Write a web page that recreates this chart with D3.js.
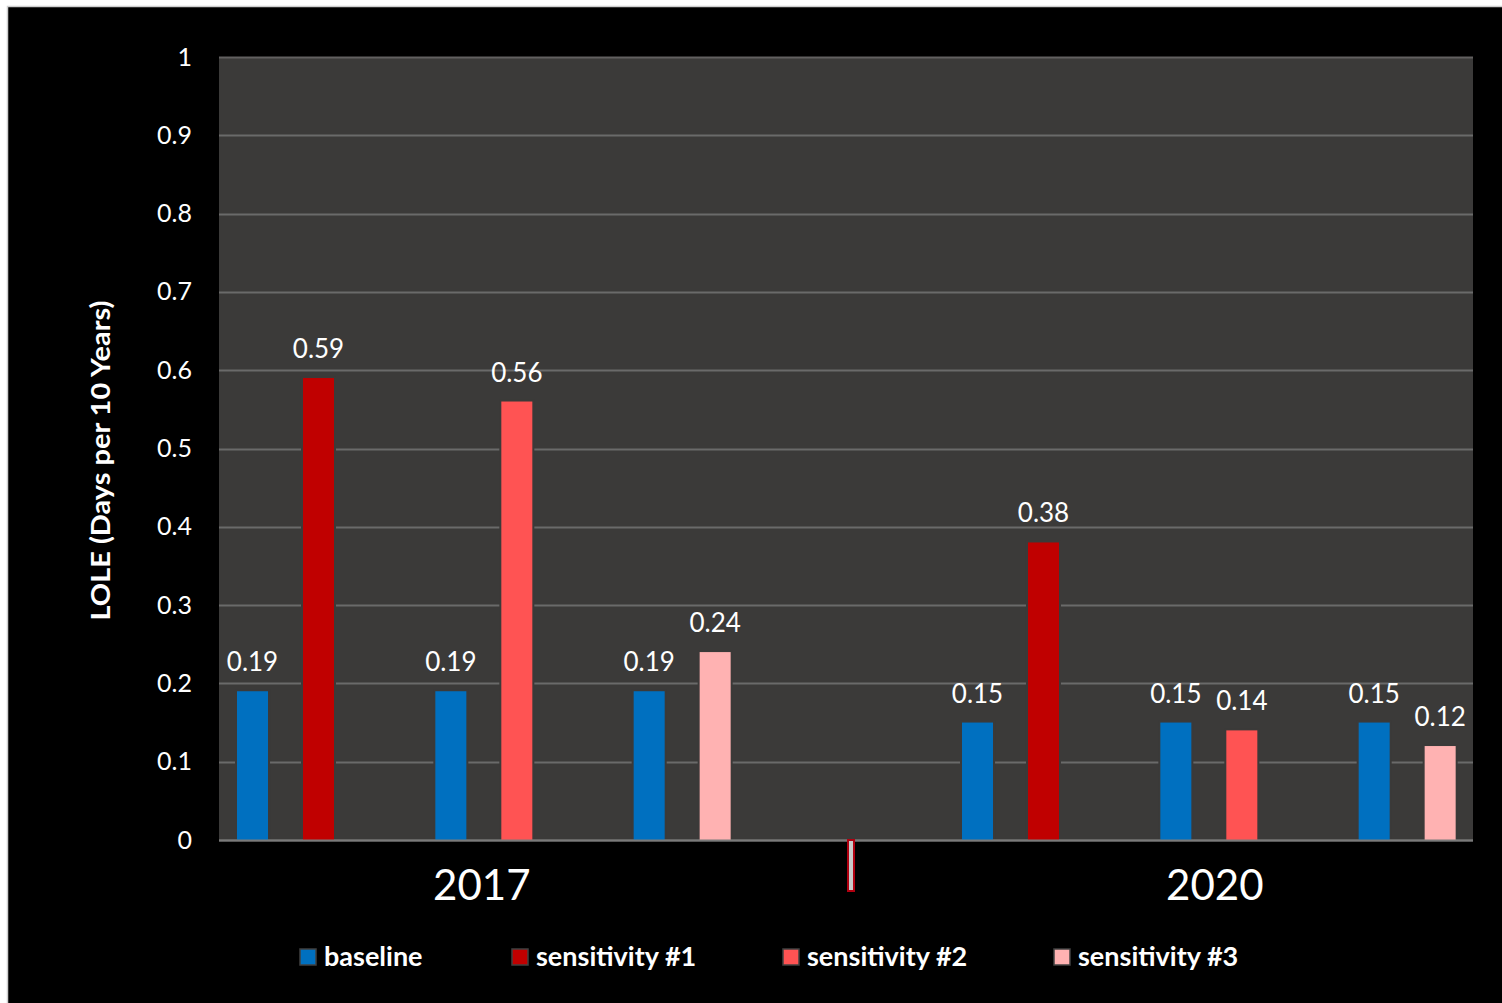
<!DOCTYPE html>
<html>
<head>
<meta charset="utf-8">
<script src="https://cdn.jsdelivr.net/npm/d3@7"></script>
<style>
  body { margin: 0; background: #fff; }
  svg { display: block; }
  text { font-family: "Lato", "Open Sans", sans-serif; }
</style>
</head>
<body>
<div id="grafico"></div>
<script>
// datos del grafico
const anios = ["2017", "2020"];
const series = ["baseline", "sensitivity #1", "sensitivity #2", "sensitivity #3"];
const colores = ["#0070c0", "#c00000", "#ff5353", "#ffb2b2"];
// cada año tiene 3 pares: baseline contra sensibilidad n
const baseline2017 = [0.19, 0.19, 0.19];
const sensibilidad2017 = [0.59, 0.56, 0.24];
const baseline2020 = [0.15, 0.15, 0.15];
const sensibilidad2020 = [0.38, 0.14, 0.12];
const ticksY = [0, 0.1, 0.2, 0.3, 0.4, 0.5, 0.6, 0.7, 0.8, 0.9, 1];

const pares = [];
anios.forEach((anio, i) => {
    const base = i === 0 ? baseline2017 : baseline2020;
    const sens = i === 0 ? sensibilidad2017 : sensibilidad2020;
    base.forEach((v, k) => {
        pares.push({ anio, par: k, serie: "baseline", valor: v });
        pares.push({ anio, par: k, serie: series[k + 1], valor: sens[k] });
    });
});

const W = 1502, H = 1003;
const margin = { top: 57, right: 29, bottom: 163, left: 219 };
const width = W - margin.left - margin.right;
const height = H - margin.top - margin.bottom;

const svg = d3.select("#grafico").append("svg")
    .attr("width", W).attr("height", H);

// fondo negro con borde gris claro
svg.append("rect").attr("x", 7.5).attr("y", 6.5).attr("width", W).attr("height", H)
    .attr("fill", "#000").attr("stroke", "#cfcfcf").attr("stroke-width", 1.5);

const g = svg.append("g").attr("transform", `translate(${margin.left},${margin.top})`);

const y = d3.scaleLinear().domain([0, 1]).range([height, 0]);
const xAnio = d3.scaleBand().domain(anios).range([0, width]);
// desplazamiento de los pares dentro de cada año
const inicioPares = { "2017": 18, "2020": 116 };
const anchoPares = 595;
const xPar = d3.scaleBand().domain([0, 1, 2]).range([0, anchoPares]);
const xSerie = d3.scaleBand().domain(["base", "sens"]).range([0, 97]).paddingInner(0.53);
const color = d3.scaleOrdinal().domain(series).range(colores);

const xBarra = d => xAnio(d.anio) + inicioPares[d.anio] + xPar(d.par) + xSerie(d.serie === "baseline" ? "base" : "sens");

g.append("rect").attr("width", width).attr("height", height).attr("fill", "#3b3a39");

// lineas de grilla
g.selectAll(".grid").data(ticksY).enter().append("line")
    .attr("x1", 0).attr("x2", width)
    .attr("y1", d => Math.round(y(d)) + 0.5).attr("y2", d => Math.round(y(d)) + 0.5)
    .attr("stroke", d => d === 1 ? "#626060" : "#6a6a6a").attr("stroke-width", 2);

// eje y
const ejeY = g.append("g")
    .call(d3.axisLeft(y).tickValues(ticksY).tickFormat(d3.format("")).tickSize(0).tickPadding(27));
ejeY.select(".domain").remove();
ejeY.selectAll("text").attr("fill", "#fff").attr("font-size", "25px")
    .attr("font-family", "Lato, 'Open Sans', sans-serif");

// barras con un halo del color del fondo
g.selectAll(".halo").data(pares).enter().append("rect")
    .attr("x", d => xBarra(d) - 2)
    .attr("y", d => y(d.valor) - 2)
    .attr("width", xSerie.bandwidth() + 4)
    .attr("height", d => height - y(d.valor) + 1)
    .attr("fill", "#3b3a39");

g.selectAll(".bar").data(pares).enter().append("rect")
    .attr("class", "bar")
    .attr("x", d => xBarra(d))
    .attr("y", d => y(d.valor))
    .attr("width", xSerie.bandwidth())
    .attr("height", d => height - y(d.valor))
    .attr("fill", d => color(d.serie));

g.selectAll(".etiqueta").data(pares).enter().append("text")
    .attr("x", d => xBarra(d) + xSerie.bandwidth() / 2)
    .attr("y", d => y(d.valor) - 20)
    .attr("text-anchor", "middle")
    .attr("fill", "#fff").attr("font-size", "26px")
    .text(d => d.valor.toFixed(2));

// eje x
g.append("line").attr("x1", 0).attr("x2", width).attr("y1", height + 0.5).attr("y2", height + 0.5)
    .attr("stroke", "#7a7a7a").attr("stroke-width", 2);

const ajusteAnio = { "2017": -2, "2020": 6 };
g.selectAll(".anio").data(anios).enter().append("text")
    .attr("x", d => xAnio(d) + inicioPares[d] + (anchoPares - xPar.step() + 97) / 2 + ajusteAnio[d])
    .attr("y", height + 60)
    .attr("text-anchor", "middle")
    .attr("fill", "#fff").attr("font-size", "42px")
    .text(d => d);

// marca divisoria entre años
g.append("rect")
    .attr("x", xAnio("2020") + 2).attr("y", height)
    .attr("width", 6).attr("height", 51)
    .attr("fill", "#c8c8c8").attr("stroke", "#b00010").attr("stroke-width", 2);

// titulo eje y
svg.append("text")
    .attr("transform", `translate(110, ${margin.top + height / 2 + 12}) rotate(-90)`)
    .attr("text-anchor", "middle")
    .attr("fill", "#fff").attr("font-size", "27px").attr("font-weight", "bold")
    .attr("textLength", 320).attr("lengthAdjust", "spacingAndGlyphs")
    .text("LOLE (Days per 10 Years)");

// leyenda
const posLeyenda = [300, 512, 783, 1054];
const leyenda = svg.selectAll(".leyenda").data(series).enter().append("g")
    .attr("transform", (d, i) => `translate(${posLeyenda[i]}, 949)`);
leyenda.append("rect").attr("width", 16).attr("height", 16)
    .attr("fill", d => color(d)).attr("stroke", "#404040").attr("stroke-width", 1.5);
leyenda.append("text").attr("x", 24).attr("y", 17)
    .attr("fill", "#fff").attr("font-size", "27px").attr("font-weight", "bold")
    .text(d => d);
</script>
</body>
</html>
